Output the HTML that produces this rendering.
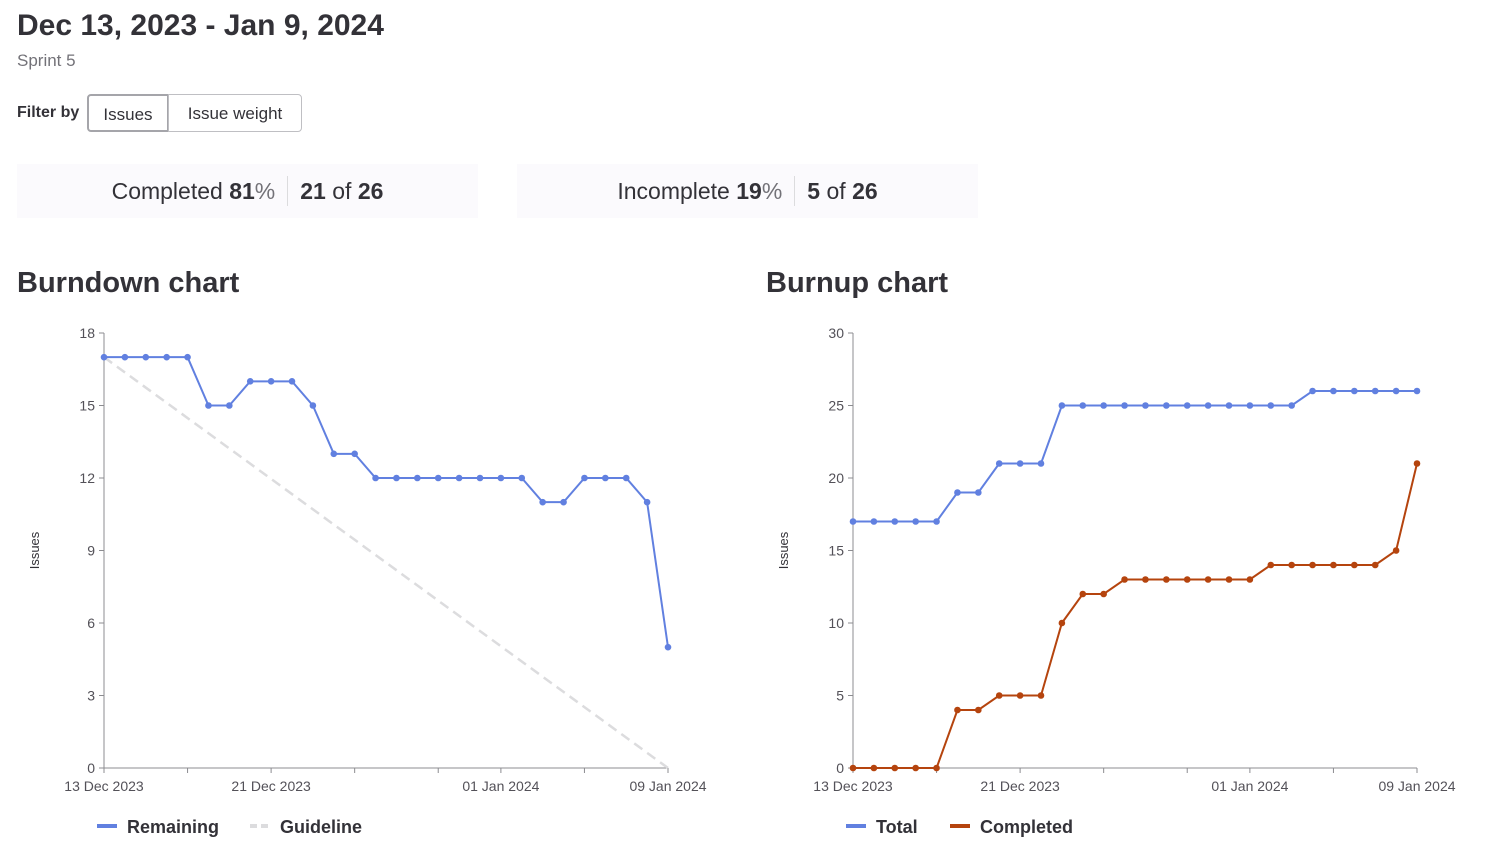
<!DOCTYPE html>
<html><head><meta charset="utf-8"><style>
body{margin:0;width:1497px;height:850px;background:#fff;font-family:"Liberation Sans",sans-serif;color:#333238;position:relative;overflow:hidden}
.abs{position:absolute}
h1{position:absolute;left:17px;top:9px;margin:0;font-size:30px;font-weight:bold;color:#333238}
.sub{left:17px;top:51px;font-size:17px;color:#737278}
.filt{left:17px;top:104px;font-size:16px;font-weight:bold}
.btn{top:94px;height:38px;border:1px solid #bfbfc3;font-size:17px;line-height:37px;text-align:center;box-sizing:border-box;background:#fff}
.card{top:164px;height:54px;width:461px;background:#fbfafd;font-size:23px;display:flex;justify-content:center;align-items:center}
.card .sep{width:1px;height:30px;background:#dcdcde;margin:0 12px}
.card .pct{color:#737278}
h2{position:absolute;margin:0;font-size:29px;font-weight:bold;top:267px}
</style></head><body>
<h1>Dec 13, 2023 - Jan 9, 2024</h1>
<div class="abs sub">Sprint 5</div>
<div class="abs filt">Filter by</div>
<div class="abs btn" style="left:87px;width:82px;border:2px solid #a5a5aa;border-radius:4px 0 0 4px">Issues</div>
<div class="abs btn" style="left:168px;width:134px;border-radius:0 4px 4px 0">Issue weight</div>
<div class="abs card" style="left:17px"><span>Completed <b>81</b><span class="pct">%</span></span><span class="sep"></span><span><b>21</b> of <b>26</b></span></div>
<div class="abs card" style="left:517px"><span>Incomplete <b>19</b><span class="pct">%</span></span><span class="sep"></span><span><b>5</b> of <b>26</b></span></div>
<h2 style="left:17px">Burndown chart</h2>
<h2 style="left:766px">Burnup chart</h2>
<svg id="svg" class="abs" style="left:0;top:0" width="1497" height="850" font-family="Liberation Sans, sans-serif"></svg>
<script>
const dates=["13 Dec 2023","14 Dec","15 Dec","16 Dec","17 Dec","18 Dec","19 Dec","20 Dec","21 Dec 2023","22 Dec","23 Dec","24 Dec","25 Dec","26 Dec","27 Dec","28 Dec","29 Dec","30 Dec","31 Dec","01 Jan 2024","02 Jan","03 Jan","04 Jan","05 Jan","06 Jan","07 Jan","08 Jan","09 Jan 2024"];
const remaining=[17,17,17,17,17,15,15,16,16,16,15,13,13,12,12,12,12,12,12,12,12,11,11,12,12,12,11,5];
const total=[17,17,17,17,17,19,19,21,21,21,25,25,25,25,25,25,25,25,25,25,25,25,26,26,26,26,26,26];
const completed=[0,0,0,0,0,4,4,5,5,5,10,12,12,13,13,13,13,13,13,13,14,14,14,14,14,14,15,21];
const burndownTicks=[0,3,6,9,12,15,18];
const burnupTicks=[0,5,10,15,20,25,30];
const xTickIdx=[0,4,8,12,16,19,23,27];
const xLabelIdx=[0,8,19,27];
const svg=document.getElementById('svg');
const NS='http://www.w3.org/2000/svg';
function mk(t,a,p){const e=document.createElementNS(NS,t);for(const k in a)e.setAttribute(k,a[k]);(p||svg).appendChild(e);return e;}
function chart(x0,x1,y0,y1,maxY,yTicks,series,legend,prefix){
  const X=i=>x0+(x1-x0)*i/(dates.length-1);
  const Y=v=>y0-(y0-y1)*v/maxY;
  const g=mk('g',{});
  
  
  mk('line',{x1:x0,y1:y1,x2:x0,y2:y0,stroke:'#8c8c90'},g);
  mk('line',{x1:x0,y1:y0,x2:x1,y2:y0,stroke:'#8c8c90'},g);
  yTicks.forEach(v=>{mk('line',{x1:x0-5,x2:x0,y1:Y(v),y2:Y(v),stroke:'#8c8c90'},g);
    const t=mk('text',{x:x0-9,y:Y(v)+5,'text-anchor':'end','font-size':14,fill:'#535158'},g);t.textContent=v;
    });
  xTickIdx.forEach(i=>mk('line',{x1:X(i),x2:X(i),y1:y0,y2:y0+5,stroke:'#8c8c90'},g));
  xLabelIdx.forEach(i=>{const t=mk('text',{x:X(i),y:y0+23,'text-anchor':'middle','font-size':14,fill:'#535158'},g);t.textContent=dates[i];
    });
  const yt=mk('text',{x:0,y:0,transform:`translate(${x0-65},${(y0+y1)/2}) rotate(-90)`,'text-anchor':'middle','font-size':13,fill:'#333238'},g);
  yt.textContent='Issues';
  series.forEach(s=>{
    if(s.guide){const p=mk('line',{x1:X(0),y1:Y(s.vals[0]),x2:X(dates.length-1),y2:Y(0),stroke:'#dcdcde','stroke-width':2.5,'stroke-dasharray':'10 6'},g);
      return;}
    const pl=mk('polyline',{points:s.vals.map((v,i)=>X(i)+','+Y(v)).join(' '),fill:'none',stroke:s.color,'stroke-width':2},g);
    
    s.vals.forEach((v,i)=>{const c=mk('circle',{cx:X(i),cy:Y(v),r:3.3,fill:s.color},g);
      });
  });
  let lx=legend.x;
  legend.items.forEach(it=>{
    mk('line',{x1:lx,x2:lx+20,y1:826,y2:826,stroke:it.color,'stroke-width':4,'stroke-dasharray':it.dash||'none'},g);
    const t=mk('text',{x:lx+30,y:833,'font-size':18,'font-weight':'bold',fill:'#333238'},g);t.textContent=it.label;
    
    lx+=it.w;
  });
}
chart(104,668,768,333,18,burndownTicks,[{guide:true,vals:remaining},{name:'remaining',vals:remaining,color:'#6180e0'}],
  {x:97,items:[{label:'Remaining',color:'#6180e0',w:153},{label:'Guideline',color:'#dcdcde',dash:'7 4'}]},'burndown');
chart(853,1417,768,333,30,burnupTicks,[{name:'total',vals:total,color:'#6180e0'},{name:'completed',vals:completed,color:'#b5440e'}],
  {x:846,items:[{label:'Total',color:'#6180e0',w:104},{label:'Completed',color:'#b5440e'}]},'burnup');
</script>
</body></html>
